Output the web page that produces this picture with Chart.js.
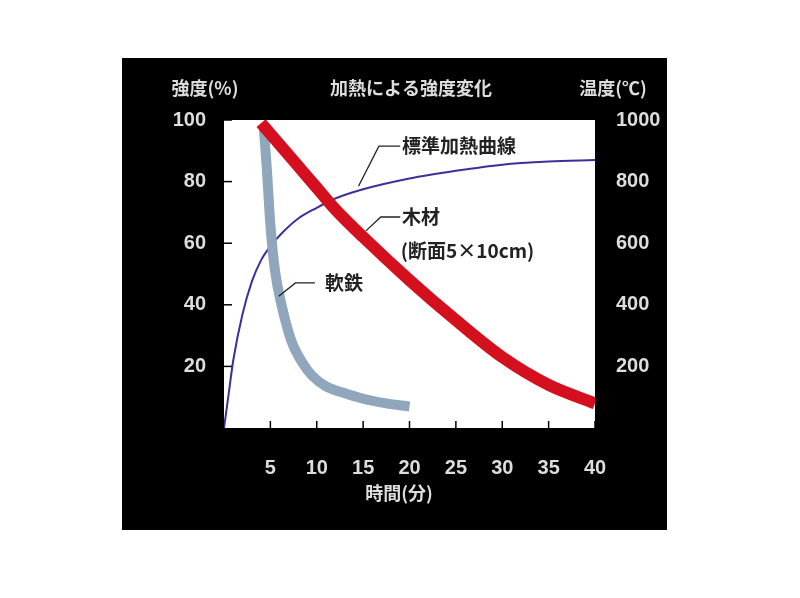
<!DOCTYPE html>
<html><head><meta charset="utf-8">
<script src="https://cdn.jsdelivr.net/npm/chart.js@4"></script>
<style>html,body{margin:0;background:#fff}#c{display:block}</style>
</head><body>
<canvas id="c" width="800" height="598"></canvas>
<script>
const heatX = [0,0.5,1,2,3,4,5,6,8,10,12,15,20,25,30,35,40];
const heatTemp = [0,110,220,370,475,545,590,625,680,715,745,775,810,835,855,865,870];
const woodX = [4,6,8,10,12,15,20,25,30,35,40];
const woodStrength = [99,92,85,78,71,62,48,35,23,14,8];
const ironX = [4.3,4.6,5,5.5,6.2,7.3,8.5,9.5,11,12.8,15,17.5,20];
const ironStrength = [97,85,66,51,40,28,21,17,13.5,11.5,9.5,8,7];
const xTicks = [5,10,15,20,25,30,35,40];
const leftTicks = [20,40,60,80,100];
const rightTicks = [200,400,600,800,1000];
const texts = {title:'加熱による強度変化', yLeft:'強度(%)', yRight:'温度(℃)', x:'時間(分)',
  heat:'標準加熱曲線', wood1:'木材', wood2:'(断面5×10cm)', iron:'軟鉄'};

const FONT = '"Liberation Sans","Noto Sans CJK JP",sans-serif';
const JP = '"Noto Sans CJK JP",sans-serif';
const pts = (xs,ys)=>xs.map((x,i)=>({x,y:ys[i]}));

const deco = {
  id:'deco',
  beforeDraw(ch){
    const c=ch.ctx; c.save();
    c.fillStyle='#000'; c.fillRect(122,58,545,472);
    const a=ch.chartArea; c.fillStyle='#fff'; c.fillRect(a.left,a.top,a.right-a.left,a.bottom-a.top);
    c.restore();
  },
  afterDatasetsDraw(ch){
    const c=ch.ctx, x=ch.scales.x, y=ch.scales.y, a=ch.chartArea;
    c.save();
    c.strokeStyle='#000'; c.lineWidth=1.5;
    xTicks.forEach(v=>{const p=x.getPixelForValue(v); c.beginPath(); c.moveTo(p,a.bottom); c.lineTo(p,a.bottom-7); c.stroke();});
    leftTicks.forEach(v=>{const p=y.getPixelForValue(v); c.beginPath(); c.moveTo(a.left,p); c.lineTo(a.left+8,p); c.stroke();});
    const P=(dx,dy)=>[x.getPixelForValue(dx),y.getPixelForValue(dy)];
    const leader=(pts)=>{c.beginPath(); pts.forEach((q,i)=>{const [px,py]=P(q[0],q[1]); i?c.lineTo(px,py):c.moveTo(px,py);}); c.stroke();};
    c.lineWidth=1.3; c.strokeStyle='#222';
    leader([[14.5,78.5],[16.7,91.5],[19,91.5]]);
    leader([[15.3,64],[16.9,68.5],[19,68.5]]);
    leader([[5.9,42.8],[7.7,47.1],[9.8,47.1]]);
    c.fillStyle='#222'; c.font='bold 19px '+JP; c.textBaseline='middle'; c.textAlign='left';
    let q=P(19.2,91.5); c.fillText(texts.heat,q[0],q[1]);
    q=P(19.2,68.5); c.fillText(texts.wood1,q[0],q[1]);
    q=P(19.5,57.5); c.fillText(texts.wood2,q[0]-4,q[1]);
    q=P(10.9,47.3); c.fillText(texts.iron,q[0],q[1]);
    c.fillStyle='#ddd'; c.font='bold 18px '+JP; c.textAlign='center';
    c.fillText(texts.title,411,88);
    c.fillText(texts.yLeft,205,88);
    c.fillText(texts.yRight,613,88);
    c.fillText(texts.x,399,493);
    c.restore();
  }
};

new Chart(document.getElementById('c'),{
  type:'line',
  data:{datasets:[
    {data:pts(woodX,woodStrength),yAxisID:'y',borderColor:'#d4101e',borderWidth:12,pointRadius:0,cubicInterpolationMode:'monotone',borderCapStyle:'butt'},
    {data:pts(ironX,ironStrength),yAxisID:'y',borderColor:'#8fa6bd',borderWidth:10,pointRadius:0,cubicInterpolationMode:'monotone',borderCapStyle:'butt'},
    {data:pts(heatX,heatTemp),yAxisID:'y2',borderColor:'#3b2f9c',borderWidth:2,pointRadius:0,cubicInterpolationMode:'monotone'}
  ]},
  options:{
    responsive:false,animation:false,
    layout:{padding:{left:122,right:133,top:120,bottom:68}},
    plugins:{legend:{display:false},tooltip:{enabled:false}},
    scales:{
      x:{type:'linear',min:0,max:40,border:{display:false},grid:{display:false},
        afterBuildTicks:s=>{s.ticks=xTicks.map(v=>({value:v}));},
        afterFit:s=>{s.height=102;},
        ticks:{color:'#ddd',padding:20,font:{family:FONT,size:20,weight:'bold'},maxRotation:0,callback:v=>String(v)}},
      y:{type:'linear',position:'left',min:0,max:100,border:{display:false},grid:{display:false},
        afterBuildTicks:s=>{s.ticks=leftTicks.map(v=>({value:v}));},
        afterFit:s=>{s.width=102;},
        ticks:{color:'#ddd',padding:10,font:{family:FONT,size:20,weight:'bold'},callback:v=>String(v)}},
      y2:{type:'linear',position:'right',min:0,max:1000,border:{display:false},grid:{display:false},
        afterBuildTicks:s=>{s.ticks=rightTicks.map(v=>({value:v}));},
        afterFit:s=>{s.width=72;},
        ticks:{color:'#ddd',padding:13,font:{family:FONT,size:20,weight:'bold'},callback:v=>String(v)}}
    }
  },
  plugins:[deco]
});
</script>
</body></html>
